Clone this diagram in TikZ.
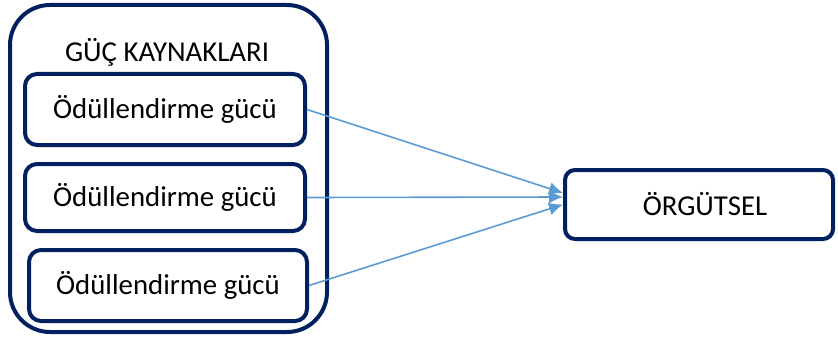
\documentclass[tikz,border=0pt]{standalone}
\usepackage{fontspec}
\setmainfont{Carlito}
\usetikzlibrary{arrows.meta}
\definecolor{navy}{HTML}{002060}
\definecolor{linkblue}{HTML}{5B9BD5}
\tikzset{
    groupbox/.style = {rectangle, rounded corners=20pt, line width=2pt, draw=navy, minimum width=158.5pt, minimum height=163.5pt},
    powerbox/.style = {rectangle, rounded corners=6pt, line width=2pt, draw=navy, minimum width=140pt, minimum height=35.5pt},
    targetbox/.style = {rectangle, rounded corners=5pt, line width=2pt, draw=navy, minimum width=134pt, minimum height=34.5pt},
    edgel/.style = {-{Latex[length=7pt,width=6.5pt]}, line width=0.8pt, linkblue},
    every picture/.style={font issue=\fontsize{14.4}{17}},
    font issue/.style={execute at begin picture={#1\selectfont}}
}

\begin{document}
\begin{tikzpicture}[x=0.5pt,y=-0.5pt]
\useasboundingbox (0,0) rectangle (838,342);
\node[groupbox] at (168.5, 168.5) (src) {};
\node at (167, 52) (title) {GÜÇ KAYNAKLARI};
\node[powerbox] at (165, 109.5) (p1) {Ödüllendirme gücü};
\node[powerbox, minimum height=33.5pt] at (165, 197.5) (p2) {Ödüllendirme gücü};
\node[powerbox, minimum width=139pt] at (168, 285.5) (p3) {Ödüllendirme gücü};
\node[targetbox] at (699, 204.5) (org) {\hspace*{6pt}ÖRGÜTSEL};
%
\draw[edgel] (p1.east) -- ([yshift=5.75pt]org.west);
\draw[edgel] (p2.east) -- ([yshift=3.75pt]org.west);
\draw[edgel] (p3.east) -- (org.west);
\end{tikzpicture}
\end{document}
